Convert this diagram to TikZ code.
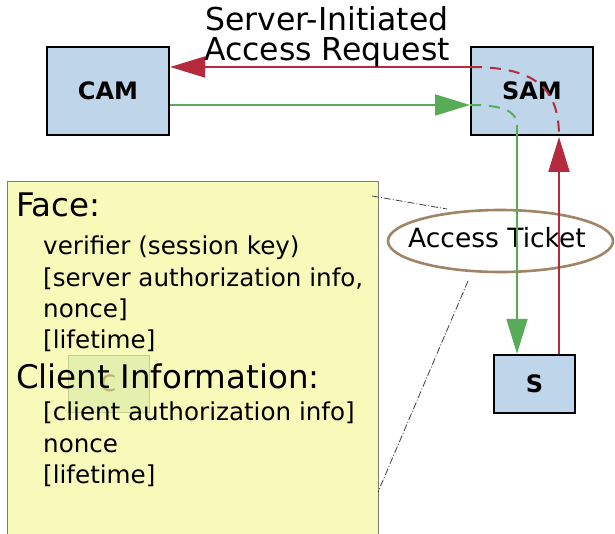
\documentclass[tikz,border=0pt]{standalone}
\usepackage{fontspec}
\setmainfont{DejaVu Sans}
\usetikzlibrary{arrows.meta,shapes.geometric}
\definecolor{boxblue}{RGB}{191,213,234}
\definecolor{reqred}{RGB}{181,42,60}
\definecolor{tkgreen}{RGB}{88,172,88}
\definecolor{notefill}{RGB}{248,250,186}
\definecolor{notedraw}{RGB}{125,125,125}
\definecolor{tkbrown}{RGB}{160,132,100}
\definecolor{stickyfill}{RGB}{222,236,170}
\definecolor{stickydraw}{RGB}{196,206,140}
\definecolor{stickytext}{RGB}{190,180,110}
\tikzset{
  entity/.style={draw=black, line width=2.4pt, fill=boxblue, inner sep=0pt,
    font=\fontsize{24}{24}\selectfont\bfseries},
  headtext/.style={anchor=base west, inner sep=0pt, font=\fontsize{32.5}{32.5}\selectfont},
  itemtext/.style={anchor=base west, inner sep=0pt, font=\fontsize{24.6}{24.6}\selectfont},
  titletext/.style={anchor=base, inner sep=0pt, font=\fontsize{31.5}{31.5}\selectfont},
  redflow/.style={draw=reqred, line width=2pt},
  greenflow/.style={draw=tkgreen, line width=2pt},
  bigtip/.style={-{Triangle[length=35pt,width=21pt]}},
  leader/.style={draw=black!75, line width=0.8pt, dash pattern=on 7pt off 2pt on 1pt off 2pt},
}
\begin{document}
\begin{tikzpicture}[x=1pt,y=-1pt]
\useasboundingbox (0,0) rectangle (615,534);

% entities
\node[entity, minimum width=122pt, minimum height=88pt] (cam) at (108,91) {CAM};
\node[entity, minimum width=122pt, minimum height=88pt] (sam) at (532,91) {SAM};
\node[entity, minimum width=81pt, minimum height=58pt] (s) at (534.5,384) {S};

% ticket ellipse
\node[draw=tkbrown, line width=2.6pt, ellipse, minimum width=225pt, minimum height=62pt,
      inner sep=0pt] (ticket) at (500.5,241) {};
\node[anchor=base, inner sep=0pt, font=\fontsize{26.5}{26.5}\selectfont] (tickettext) at (497,248) {Access Ticket};

% routing points
\coordinate (redin) at (471,67);
\coordinate (redturn) at (559,137);
\coordinate (greenin) at (470,105);
\coordinate (greenturn) at (517,125);

% server-initiated request (red)
\draw[redflow, bigtip] (redin) -- (cam.east |- redin);
\draw[redflow, dash pattern=on 11pt off 8pt] (redin) .. controls (540,67) and (559,92) .. (redturn);
\draw[redflow, bigtip] (s.north -| redturn) -- (redturn);

% ticket flow (green)
\draw[greenflow, bigtip] (cam.east |- greenin) -- (greenin);
\draw[greenflow, dash pattern=on 11pt off 8pt] (greenin) .. controls (500,105) and (517,110) .. (greenturn);
\draw[greenflow, bigtip] (greenturn) -- (s.north -| greenturn);

% title
\node[titletext] (title1) at (327,31) {Server-Initiated};
\node[titletext] (title2) at (327,61) {Access Request};

% note with the ticket contents
\node[draw=notedraw, line width=1.2pt, fill=notefill, anchor=north west, inner sep=0pt,
      minimum width=371pt, minimum height=370pt] (note) at (7,181) {};
\node[draw=stickydraw, line width=1pt, fill=stickyfill, fill opacity=0.7, inner sep=0pt,
      minimum width=81pt, minimum height=57pt, text=stickytext, text opacity=1,
      font=\fontsize{30}{30}\selectfont] (sticky) at (108.5,383.5) {c};

\node[headtext] (face) at (16,217) {Face:};
\node[itemtext] (f1) at (43,255) {verifier (session key)};
\node[itemtext] (f2) at (43,287) {[server authorization info,};
\node[itemtext] (f3) at (43,317) {nonce]};
\node[itemtext] (f4) at (43,348) {[lifetime]};
\node[headtext] (client) at (16,388) {Client Information:};
\node[itemtext] (c1) at (43,420) {[client authorization info]};
\node[itemtext] (c2) at (43,452) {nonce};
\node[itemtext] (c3) at (43,483) {[lifetime]};

% leaders from note to ticket
\coordinate (notetop) at (372,196);
\coordinate (notebot) at (378,492);
\draw[leader] (notetop) -- (447,209);
\draw[leader] (468,281) -- (notebot);
\end{tikzpicture}
\end{document}
